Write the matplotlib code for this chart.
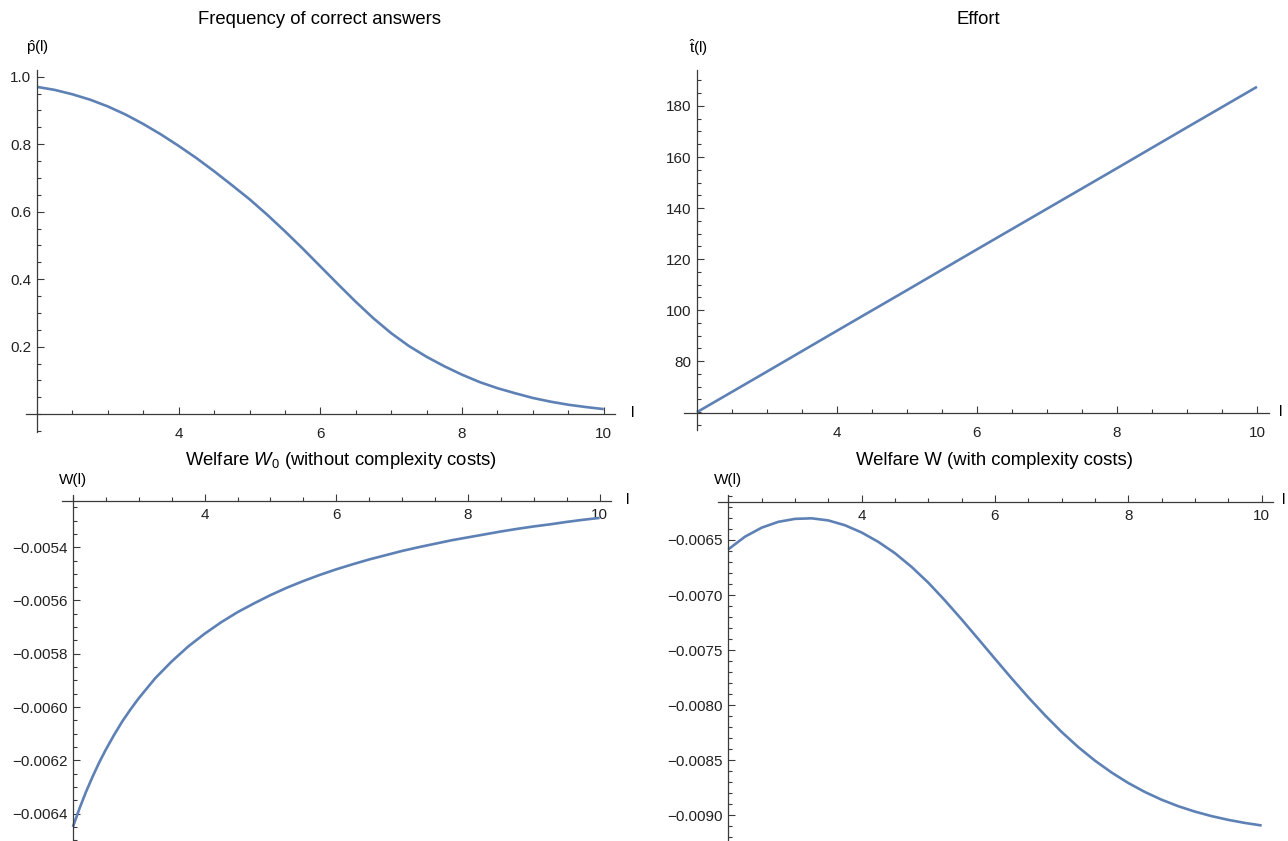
import numpy as np
import matplotlib.pyplot as plt
from matplotlib.ticker import MultipleLocator, FixedLocator, FuncFormatter

plt.rcParams.update({
    "font.family": ["Liberation Sans", "DejaVu Sans"],
    "mathtext.fontset": "custom",
    "mathtext.rm": "Liberation Sans",
    "mathtext.it": "Liberation Sans:italic",
    "axes.unicode_minus": True,
})

# Data
l_fine = [2.0, 2.25, 2.5, 2.75, 3.0, 3.25, 3.5, 3.75, 4.0, 4.25, 4.5, 4.75, 5.0,
          5.25, 5.5, 5.75, 6.0, 6.25, 6.5, 6.75, 7.0, 7.25, 7.5, 7.75, 8.0,
          8.25, 8.5, 8.75, 9.0, 9.25, 9.5, 9.75, 10.0]

p_hat = [0.970, 0.961, 0.948, 0.932, 0.912, 0.888, 0.860, 0.829, 0.795, 0.759,
         0.720, 0.679, 0.637, 0.591, 0.542, 0.491, 0.438, 0.385, 0.333, 0.284,
         0.240, 0.202, 0.170, 0.142, 0.117, 0.095, 0.077, 0.062, 0.048, 0.037,
         0.028, 0.021, 0.015]

l_int = [2, 3, 4, 5, 6, 7, 8, 9, 10]
t_hat = [60.0, 75.9, 91.9, 107.8, 123.8, 139.7, 155.6, 171.6, 187.5]

# welfare without complexity costs (read finer near l = 2 where it is steep)
l_w0 = [2.0, 2.1, 2.2, 2.3, 2.4, 2.5, 2.625, 2.75, 2.875, 3.0, 3.25, 3.5, 3.75,
        4.0, 4.25, 4.5, 4.75, 5.0, 5.25, 5.5, 5.75, 6.0, 6.25, 6.5, 6.75,
        7.0, 7.25, 7.5, 7.75, 8.0, 8.25, 8.5, 8.75, 9.0, 9.25, 9.5, 9.75, 10.0]
W0 = [-0.006450, -0.006381, -0.006318, -0.006261, -0.006208, -0.006160,
      -0.006105, -0.006054, -0.006009, -0.005967, -0.005892, -0.005829,
      -0.005773, -0.005725, -0.005682, -0.005644, -0.005611, -0.005580,
      -0.005552, -0.005527, -0.005504, -0.005483, -0.005464, -0.005446,
      -0.005430, -0.005414, -0.005400, -0.005387, -0.005374, -0.005363,
      -0.005352, -0.005341, -0.005331, -0.005322, -0.005314, -0.005305,
      -0.005297, -0.005290]

# welfare with complexity costs
W = [-0.006585, -0.006470, -0.006388, -0.006335, -0.006308, -0.006303,
     -0.006322, -0.006366, -0.006432, -0.006517, -0.006620, -0.006745,
     -0.006888, -0.007050, -0.007222, -0.007400, -0.007580, -0.007758,
     -0.007930, -0.008093, -0.008245, -0.008383, -0.008506, -0.008614,
     -0.008709, -0.008791, -0.008861, -0.008920, -0.008969, -0.009010,
     -0.009044, -0.009072, -0.009095]

line_color = '#5E81B5'
axis_color = '#3a3a3a'
FW, FH = 1288, 841
title_size = 13.3
label_size = 11


def px_axes(fig, left, right, top, bottom):
    # axes from pixel box
    return fig.add_axes([left / FW, 1 - bottom / FH, (right - left) / FW, (bottom - top) / FH])


def minus_fmt(fmt):
    return FuncFormatter(lambda v, pos: (fmt % v).replace('-', '\u2212'))


def style_axes(ax, x0, y0, xlim, ylim, ymajor, yminor, yfmt, xpad):
    ax.set_xlim(*xlim)
    ax.set_ylim(*ylim)
    for s in ['top', 'right']:
        ax.spines[s].set_visible(False)
    ax.spines['left'].set_position(('data', x0))
    ax.spines['bottom'].set_position(('data', y0))
    for s in ['left', 'bottom']:
        ax.spines[s].set_color(axis_color)
        ax.spines[s].set_linewidth(0.9)
    ax.xaxis.set_major_locator(FixedLocator([4, 6, 8, 10]))
    ax.xaxis.set_minor_locator(MultipleLocator(0.5))
    ax.yaxis.set_major_locator(FixedLocator(ymajor))
    ax.yaxis.set_minor_locator(MultipleLocator(yminor))
    ax.yaxis.set_major_formatter(minus_fmt(yfmt))
    ax.tick_params(which='both', direction='in', color=axis_color, width=0.8,
                   labelsize=label_size, labelcolor='#222222')
    ax.tick_params(which='major', length=5)
    ax.tick_params(which='minor', length=3.2)
    ax.tick_params(axis='x', which='major', pad=xpad)
    ax.tick_params(axis='y', which='major', pad=4)
    ax.set_facecolor('none')


fig = plt.figure(figsize=(FW / 100, FH / 100), dpi=100)

# Frequency of correct answers
ax1 = px_axes(fig, 26.4, 615, 70, 431.7)
ax1.plot(l_fine, p_hat, color=line_color, lw=1.9, solid_capstyle='butt')
style_axes(ax1, 2, 0, (1.85, 10.16), (-0.052, 1.02), [0.2, 0.4, 0.6, 0.8, 1.0], 0.05, '%.1f', 9)
fig.text(320 / FW, 1 - 19 / FH, 'Frequency of correct answers', ha='center', va='center', fontsize=title_size)
fig.text(38 / FW, 1 - 48 / FH, r'$\hat{\mathrm{p}}$(l)', ha='center', va='center', fontsize=label_size)
fig.text(633 / FW, 1 - 413 / FH, 'l', ha='center', va='center', fontsize=label_size)

# Effort
ax2 = px_axes(fig, 684.4, 1268.5, 70, 430)
ax2.plot(l_int, t_hat, color=line_color, lw=1.9, solid_capstyle='butt')
style_axes(ax2, 2, 59.5, (1.82, 10.165), (53, 194.1), [80, 100, 120, 140, 160, 180], 5, '%d', 9)
fig.text(978 / FW, 1 - 20 / FH, 'Effort', ha='center', va='center', fontsize=title_size)
fig.text(698 / FW, 1 - 48 / FH, r'$\hat{\mathrm{t}}$(l)', ha='center', va='center', fontsize=label_size)
fig.text(1281 / FW, 1 - 412 / FH, 'l', ha='center', va='center', fontsize=label_size)

# Welfare W0
ax3 = px_axes(fig, 61.7, 610.6, 495, 841)
ax3.plot(l_w0, W0, color=line_color, lw=1.9, solid_capstyle='butt')
style_axes(ax3, 2, -0.005226, (1.83, 10.166), (-0.006503, -0.005204),
           [-0.0064, -0.0062, -0.0060, -0.0058, -0.0056, -0.0054], 0.00005, '%.4f', 5)
fig.text(341 / FW, 1 - 460 / FH, r'Welfare $W_0$ (without complexity costs)', ha='center', va='center', fontsize=title_size)
fig.text(73 / FW, 1 - 480 / FH, 'W(l)', ha='center', va='center', fontsize=label_size)
fig.text(628 / FW, 1 - 500 / FH, 'l', ha='center', va='center', fontsize=label_size)

# Welfare W
ax4 = px_axes(fig, 717.9, 1273, 495, 841)
ax4.plot(l_fine, W, color=line_color, lw=1.9, solid_capstyle='butt')
style_axes(ax4, 2, -0.006152, (1.844, 10.17), (-0.009236, -0.006091),
           [-0.0090, -0.0085, -0.0080, -0.0075, -0.0070, -0.0065], 0.0001, '%.4f', 5)
fig.text(994 / FW, 1 - 460 / FH, 'Welfare W (with complexity costs)', ha='center', va='center', fontsize=title_size)
fig.text(728 / FW, 1 - 480 / FH, 'W(l)', ha='center', va='center', fontsize=label_size)
fig.text(1284 / FW, 1 - 500 / FH, 'l', ha='center', va='center', fontsize=label_size)

fig.savefig('out.png', dpi=100)
